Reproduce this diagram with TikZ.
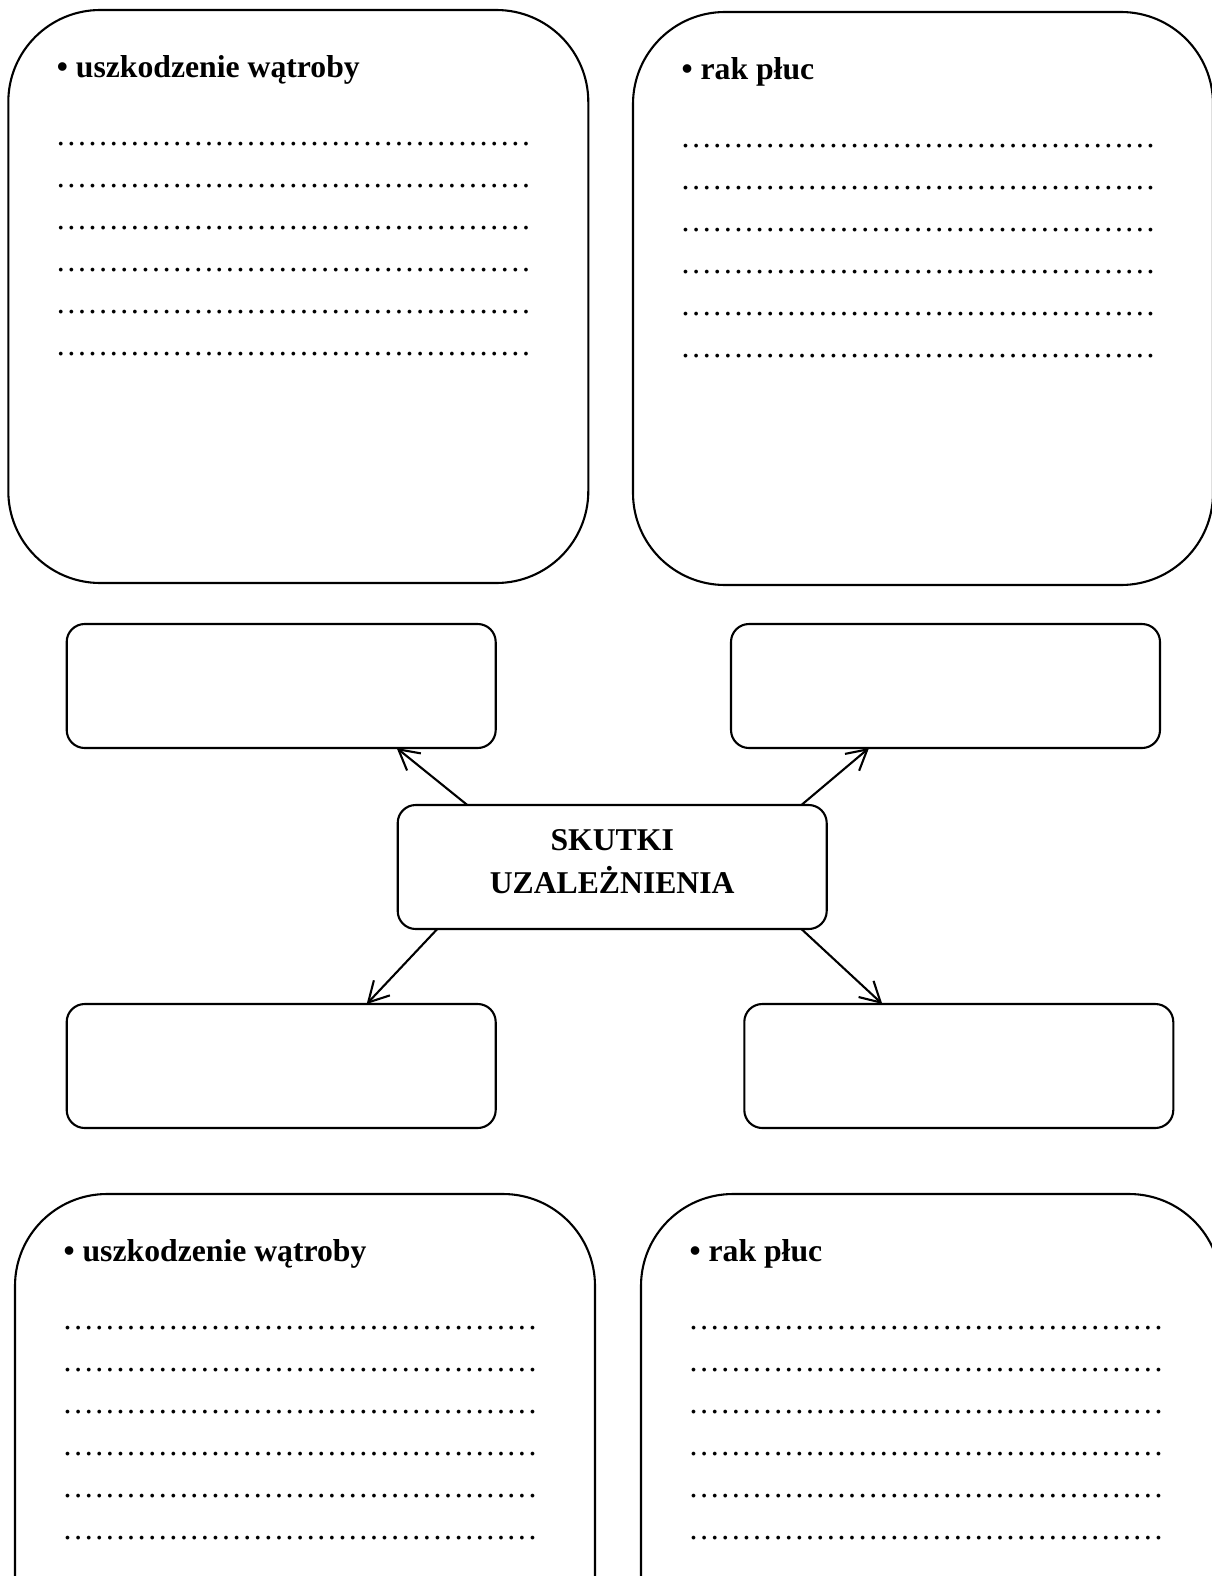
\documentclass[tikz,border=0pt]{standalone}
\usepackage{fontspec}
\setmainfont{Liberation Serif}
\usetikzlibrary{calc,arrows.meta}

\newcommand{\piec}{\char"2026\char"2026\char"2026\char"2026\char"2026}
\tikzset{
  ramka/.style={draw, line width=2.1pt, rounded corners=92pt, minimum width=580pt,
    minimum height=573pt, inner sep=0pt, outer sep=0pt, anchor=north west},
  okienko/.style={draw, line width=2.1pt, rounded corners=18pt, minimum width=429pt,
    minimum height=124pt, inner sep=0pt, outer sep=0pt, anchor=north west},
  tytul/.style={font=\fontsize{31.7}{43.3}\selectfont\bfseries, anchor=base west, inner sep=0pt},
  kropki/.style={font=\fontsize{31.7}{38}\selectfont, anchor=base west, inner sep=0pt},
  strzalka/.style={line width=2.1pt, -{Straight Barb[length=20pt,width=22pt]}}
}

\begin{document}
\begin{tikzpicture}[x=1pt,y=-1pt]
\useasboundingbox (0,0) rectangle (1211,1576);
%% duze ramki
\node[ramka] (ramkaLG) at (8.3,10) {};
\node[ramka] (ramkaPG) at (633,12) {};
\node[ramka] (ramkaLD) at (15,1194) {};
\node[ramka] (ramkaPD) at (641,1194) {};
\node[tytul] (tytulLG) at ($(ramkaLG.north west)+(48.4,67.7)$) {• uszkodzenie wątroby};
\node[tytul] (tytulPG) at ($(ramkaPG.north west)+(48.4,67.7)$) {• rak płuc};
\node[tytul] (tytulLD) at ($(ramkaLD.north west)+(48.4,67.7)$) {• uszkodzenie wątroby};
\node[tytul] (tytulPD) at ($(ramkaPD.north west)+(48.4,67.7)$) {• rak płuc};
\foreach \r in {LG,PG,LD,PD}
  \foreach \k in {0,...,5}
    \node[kropki] (kropki\r\k) at ($(ramka\r.north west)+(47.2,135.6+42*\k)$) {\piec\piec\piec};
%% okienka
\node[okienko] (okienkoLG) at (66.7,624) {};
\node[okienko] (okienkoPG) at (731,624) {};
\node[okienko] (okienkoLD) at (66.7,1004) {};
\node[okienko] (okienkoPD) at (744.3,1004) {};
\node[okienko, align=center, font=\fontsize{31.7}{43.3}\selectfont\bfseries] (skutki) at (397.7,805)
  {SKUTKI\\UZALEŻNIENIA\rule[-10.4pt]{0pt}{0pt}};
%% strzalki
\draw[strzalka] ($(skutki.north west)+(69.6,0)$) -- ($(okienkoLG.south west)+(330,0)$);
\draw[strzalka] ($(skutki.north east)+(-25.3,0)$) -- ($(okienkoPG.south west)+(138,0)$);
\draw[strzalka] ($(skutki.south west)+(39.6,0)$) -- ($(okienkoLD.north west)+(300,0)$);
\draw[strzalka] ($(skutki.south east)+(-25.3,0)$) -- ($(okienkoPD.north west)+(138,0)$);
\end{tikzpicture}
\end{document}
